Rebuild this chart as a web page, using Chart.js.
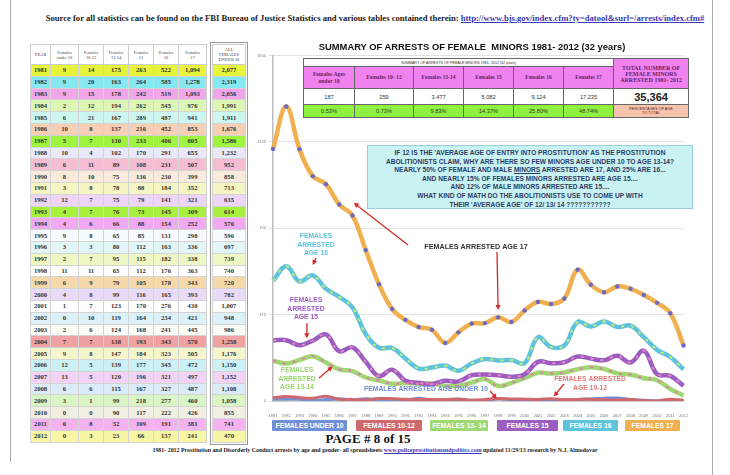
<!DOCTYPE html>
<html>
<head>
<meta charset="utf-8">
<script src="https://cdn.jsdelivr.net/npm/chart.js@4.4.1/dist/chart.umd.min.js"></script>
<style>
  body { margin:0; width:730px; height:475px; background:#fff; position:relative; overflow:hidden; font-family:"Liberation Serif", serif; }
  .abs { position:absolute; }
  #source { left:0; width:750px; top:13px; text-align:center; font-weight:bold; font-size:8.6px; color:#222; white-space:nowrap; }
  #source a, #footer a { color:#3a3ab0; text-decoration:underline; }
  #borderL { left:10px; top:0; width:1px; height:462px; background:#aaa; }
  #borderR { left:712px; top:0; width:1px; height:475px; background:#aaa; }
  table { border-collapse:collapse; table-layout:fixed; }
  #years td, #allcol td { font-weight:bold; font-size:6.6px; text-align:center; color:#333; border:1px solid #d4d4d4; height:10.8px; padding:0; line-height:10px; }
  #years th, #allcol th { font-weight:normal; font-size:4.4px; color:#444; border:1px solid #ccc; height:19px; padding:0; line-height:5px; background:#fff; }
  #years { left:30px; top:44px; width:176px; }
  #allcol { left:212px; top:44px; width:34px; outline:1.5px solid #999; outline-offset:1px; }
  #title { left:252px; width:440px; top:41px; text-align:center; font-family:Arial,"Liberation Sans",sans-serif; font-weight:bold; font-size:9.4px; color:#111; white-space:pre; }
  #summary { left:303px; top:58px; width:385px; background:#fff; font-family:"Liberation Serif",serif; }
  #summary td { border:1px solid #666; text-align:center; padding:0; }
  #box { left:367px; top:145px; width:326px; height:64px; background:#c9f3f3; border:1px solid #9cd; font-family:Arial,"Liberation Sans",sans-serif; font-weight:bold; font-size:6.6px; color:#2d3d66; text-align:center; line-height:8.6px; padding-top:3px; box-sizing:border-box; white-space:nowrap; }
  #legend div { position:absolute; top:420px; height:11px; color:#fff; font-family:Arial,"Liberation Sans",sans-serif; font-weight:bold; font-size:6.8px; line-height:11px; text-align:center; border-radius:1px; }
  #page { left:300px; width:136px; top:431px; text-align:center; font-weight:bold; font-size:13px; color:#111; }
  #footer { left:0; width:750px; top:447px; text-align:center; font-weight:bold; font-size:5.9px; color:#222; white-space:nowrap; }
  canvas { position:absolute; left:252px; top:50px; }
</style>
</head>
<body>
<div id="borderL" class="abs"></div>
<div id="borderR" class="abs"></div>
<div id="source" class="abs">Source for all statistics can be found on the FBI Bureau of Justice Statistics and various tables contained therein: <a>http://www.bjs.gov/index.cfm?ty=datool&amp;surl=/arrests/index.cfm#</a></div>

<table id="years" class="abs"></table>
<table id="allcol" class="abs"></table>

<canvas id="chart" width="440" height="368"></canvas>

<div id="title" class="abs">SUMMARY OF ARRESTS OF FEMALE  MINORS 1981- 2012 (32 years)</div>
<table id="summary" class="abs"></table>

<div id="box" class="abs">
IF 12 IS THE 'AVERAGE AGE OF ENTRY INTO PROSTITUTION' AS THE PROSTITUTION<br>
ABOLITIONISTS CLAIM, WHY ARE THERE SO FEW MINORS AGE UNDER 10 TO AGE 13-14?<br>
NEARLY 50% OF FEMALE AND MALE <u>MINORS</u> ARRESTED ARE 17, AND 25% ARE 16...<br>
AND NEARLY 15% OF FEMALES MINORS ARRESTED ARE AGE 15....<br>
AND 12% OF MALE MINORS ARRESTED ARE 15....<br>
WHAT KIND OF MATH DO THE ABOLITIONISTS USE TO COME UP WITH<br>
THEIR 'AVERAGE AGE' OF 12/ 13/ 14 ???????????
</div>

<div id="legend"></div>
<div id="page" class="abs">PAGE # 8 of 15</div>
<div id="footer" class="abs">1981- 2012 Prostitution and Disorderly Conduct arrests by age and gender- all spreadsheets <a>www.policeprostitutionandpolitics.com</a> updated 11/29/13 research by N.J. Almodovar</div>

<script>
// yearly arrests of female minors
const years = ["1981","1982","1983","1984","1985","1986","1987","1988","1989","1990","1991","1992","1993","1994","1995","1996",
  "1997","1998","1999","2000","2001","2002","2003","2004","2005","2006","2007","2008","2009","2010","2011","2012"];
const under10 = [9,9,9,2,6,10,5,10,6,8,3,12,4,4,9,3,2,11,6,4,1,0,2,7,9,12,13,6,3,0,0,0];
const age10_12 = [14,20,15,12,21,8,7,4,11,10,8,7,7,6,8,3,7,11,9,8,7,10,6,7,8,5,5,6,1,0,8,3];
const age13_14 = [175,163,178,194,167,137,130,102,89,75,78,75,76,66,65,80,95,65,79,99,123,119,124,138,147,139,120,115,99,90,52,23];
const age15 = [263,264,242,262,289,216,233,170,108,136,88,79,73,88,85,112,115,112,105,116,170,164,168,193,184,177,196,167,218,117,109,66];
const age16 = [522,585,519,545,487,452,406,291,231,230,184,141,145,154,131,163,182,176,178,165,276,234,241,343,323,345,321,327,277,222,191,137];
const age17 = [1094,1278,1093,976,941,853,805,655,507,399,352,321,309,252,298,336,338,363,343,393,430,421,445,570,505,472,497,487,460,426,381,241];
const allUnder18 = [2077,2319,2056,1991,1911,1676,1586,1232,952,858,713,635,614,570,596,697,739,740,720,782,1007,948,986,1258,1176,1150,1152,1108,1058,855,741,470];

// 32-year summary
const summaryLabels = ["Females Ages under 10","Females 10- 12","Females 13-14","Females 15","Females 16","Females 17"];
const summaryTotals = [187,259,3477,5082,9124,17235];
const summaryPercents = ["0.53%","0.73%","9.83%","14.37%","25.80%","48.74%"];
const grandTotal = 35364;

const seriesNames = ["FEMALES UNDER 10","FEMALES 10-12","FEMALES 13- 14","FEMALES 15","FEMALES 16","FEMALES 17"];
const seriesColors = ["#6f8fd6","#d0686f","#9fd771","#9b5ec0","#5ec3dc","#f0b04f"];
const accentColors = ["#d97a8a","#d0686f","#e27bb0","#e387c6","#cdeb73","#6b6bc6"];

const rowColors = ["#e6f43c","#86e8f0","#f1a6ea","#ddf6b6","#cdf6f0","#f6cfb4","#9ef43e","#e8e8f8","#f5bcd2","#f8ebdc",
  "#f6f6c4","#eed4f6","#a8f03e","#f1aaf1","#f6fbff","#e2f6f8","#eef8c4","#ffffff","#f5d9aa","#e9daf8",
  "#ffffff","#dcf0f8","#fbfbf6","#f0a2a2","#f6f6cc","#cbf1f6","#f2d3f6","#dbebf8","#daf5c4","#f1eee2","#f5b2f1","#f6f6a4"];

const fmt = n => n.toLocaleString("en-US");

// left table
const yt = document.getElementById("years");
let html = "<colgroup><col style='width:20px'><col style='width:28px'><col style='width:25px'><col style='width:25px'><col style='width:25px'><col style='width:25px'><col style='width:28px'></colgroup>";
html += "<tr><th>YEAR</th><th>Females<br>under 10</th><th>Females<br>10-12</th><th>Females<br>13-14</th><th>Females<br>15</th><th>Females<br>16</th><th>Females<br>17</th></tr>";
years.forEach((y,i) => {
  html += `<tr style="background:${rowColors[i]}"><td>${y}</td><td>${under10[i]}</td><td>${age10_12[i]}</td><td>${age13_14[i]}</td><td>${age15[i]}</td><td>${age16[i]}</td><td>${fmt(age17[i])}</td></tr>`;
});
yt.innerHTML = html;

const at = document.getElementById("allcol");
html = "<tr><th>ALL<br>FEMALES<br>UNDER 18</th></tr>";
allUnder18.forEach((v,i) => { html += `<tr style="background:${rowColors[i]}"><td>${fmt(v)}</td></tr>`; });
at.innerHTML = html;

// summary table
const st = document.getElementById("summary");
html = "<colgroup><col style='width:51px'><col style='width:59px'><col style='width:50px'><col style='width:50px'><col style='width:50px'><col style='width:50px'><col style='width:75px'></colgroup>";
html += "<tr style='height:8px'><td colspan='6' style='font-family:Arial,sans-serif;font-size:3.6px;color:#333'>SUMMARY OF ARRESTS OF FEMALE  MINORS 1981- 2012 (32 years)</td>";
html += "<td rowspan='2' style='background:#ef82ef;color:#6a1f6a;font-weight:bold;font-size:6px;line-height:6px'>TOTAL NUMBER OF<br>FEMALE MINORS<br>ARRESTED 1981- 2012</td></tr>";
html += "<tr style='height:22px;background:#ef82ef'>" + summaryLabels.map(l => `<td style="color:#6a1f6a;font-weight:bold;font-size:5.6px;line-height:7px">${l.replace(" under","<br>under")}</td>`).join("") + "</tr>";
html += "<tr style='height:16px'>" + summaryTotals.map(v => `<td style="font-family:Arial,sans-serif;font-size:5.6px;color:#333">${fmt(v)}</td>`).join("")
  + `<td style="font-family:Arial,sans-serif;font-weight:bold;font-size:11px;color:#222">${fmt(grandTotal)}</td></tr>`;
html += "<tr style='height:13px;background:#8ef03f'>" + summaryPercents.map(p => `<td style="font-family:Arial,sans-serif;font-size:5.6px;color:#333">${p}</td>`).join("")
  + "<td style='background:#f6c3ac;font-family:Arial,sans-serif;font-size:3.8px;line-height:4.4px;color:#5a2a2a'>PERCENTAGES OF AGE<br>TO TOTAL</td></tr>";
st.innerHTML = html;

// legend boxes
const legendPos = [[272,75],[356,66],[430,58],[497,61],[563,55],[625,55]];
document.getElementById("legend").innerHTML = seriesNames.map((n,i) =>
  `<div style="left:${legendPos[i][0]}px;width:${legendPos[i][1]}px;background:${seriesColors[i]}">${n}</div>`).join("");

// chart
const series = [under10, age10_12, age13_14, age15, age16, age17];
const datasets = [];
series.forEach((d,i) => {
  datasets.push({
    label: seriesNames[i], data: d, borderColor: seriesColors[i], borderWidth: i < 2 ? 3 : 4.5,
    tension: 0.4, pointRadius: i === 5 ? 2.2 : 0, pointBackgroundColor: accentColors[i], pointBorderWidth: 0,
    order: 20 - i
  });
  if (i >= 2 && i <= 4) {
    datasets.push({
      label: seriesNames[i] + " dash", data: d, borderColor: accentColors[i], borderWidth: 2,
      borderDash: [3,7], tension: 0.4, pointRadius: 0, order: 10 - i
    });
  }
});

// text labels and red arrows drawn on the chart
const notes = [
  { lines:["FEMALES ARRESTED AGE 17"], x:224, y:197, color:"#333", size:7.2 },
  { lines:["FEMALES","ARRESTED","AGE 16"], x:64, y:186, color:"#62c3dc", size:6.8 },
  { lines:["FEMALES","ARRESTED","AGE 15"], x:54, y:250, color:"#9b5ec0", size:6.8 },
  { lines:["FEMALES","ARRESTED","AGE 13-14"], x:45, y:320, color:"#98d46a", size:6.8 },
  { lines:["FEMALES ARRESTED AGE UNDER 10"], x:174, y:339, color:"#7090d8", size:6.8 },
  { lines:["FEMALES ARRESTED","AGE 10-12"], x:338, y:329, color:"#e07a7a", size:6.8 }
];
// arrows: start pixel, end at (index, value) on the chart scales
const arrows = [
  { from:[156,195], to:[6.1, 860] },
  { from:[245,202], to:[17, 395] },
  { from:[64,208], to:[3, 590] },
  { from:[55,273], to:[2.55, 272] },
  { from:[67,328], to:[4.5, 150] },
  { from:[238,341], to:[16.9, 10] },
  { from:[312,334], to:[21.2, 20] }
];

const notesPlugin = {
  id: "notes",
  afterDatasetsDraw(chart) {
    const ctx = chart.ctx, xs = chart.scales.x, ys = chart.scales.y;
    ctx.save();
    ctx.textBaseline = "middle";
    ctx.textAlign = "center";
    notes.forEach(n => {
      ctx.font = `bold ${n.size}px Arial, 'Liberation Sans', sans-serif`;
      ctx.fillStyle = n.color;
      n.lines.forEach((t,k) => ctx.fillText(t, n.x, n.y + k * 8.8));
    });
    ctx.strokeStyle = "#d42a2a";
    ctx.fillStyle = "#d42a2a";
    ctx.lineWidth = 1.3;
    arrows.forEach(a => {
      const x1 = a.from[0], y1 = a.from[1];
      const x2 = xs.getPixelForValue(a.to[0]), y2 = ys.getPixelForValue(a.to[1]);
      const ang = Math.atan2(y2 - y1, x2 - x1);
      ctx.beginPath(); ctx.moveTo(x1, y1); ctx.lineTo(x2 - 3 * Math.cos(ang), y2 - 3 * Math.sin(ang)); ctx.stroke();
      ctx.beginPath();
      ctx.moveTo(x2, y2);
      ctx.lineTo(x2 - 5 * Math.cos(ang) + 2.6 * Math.sin(ang), y2 - 5 * Math.sin(ang) - 2.6 * Math.cos(ang));
      ctx.lineTo(x2 - 5 * Math.cos(ang) - 2.6 * Math.sin(ang), y2 - 5 * Math.sin(ang) + 2.6 * Math.cos(ang));
      ctx.closePath(); ctx.fill();
    });
    ctx.restore();
  }
};

new Chart(document.getElementById("chart"), {
  type: "line",
  data: { labels: years, datasets: datasets },
  options: {
    responsive: false, animation: false, devicePixelRatio: 1,
    layout: { padding: { top: 5, right: 6, left: 0, bottom: 0 } },
    plugins: { legend: { display: false }, tooltip: { enabled: false } },
    scales: {
      x: {
        offset: false,
        grid: { display: false },
        border: { color: "#bbb", width: 1.5 },
        ticks: { autoSkip: false, maxRotation: 0, font: { size: 4 }, color: "#777", padding: 4 },
        afterFit: s => { s.height = 17; }
      },
      y: {
        min: 0, max: 1500,
        grid: { color: "#e2e2e2", tickLength: 4 },
        border: { color: "#bbb", width: 1.5 },
        ticks: { stepSize: 375, font: { size: 4 }, color: "#777", callback: v => v },
        afterFit: s => { s.width = 21; }
      }
    }
  },
  plugins: [notesPlugin]
});
</script>
</body>
</html>
